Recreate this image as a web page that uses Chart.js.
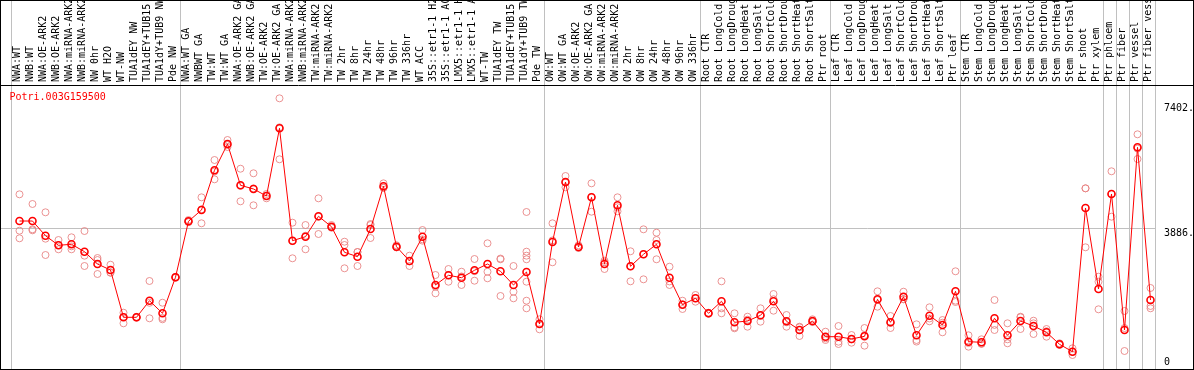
<!DOCTYPE html>
<html>
<head>
<meta charset="utf-8">
<script src="https://cdn.jsdelivr.net/npm/chart.js@4"></script>
<style>
  html, body { margin: 0; padding: 0; background: #fff; }
  #wrap { width: 1194px; height: 370px; }
</style>
</head>
<body>
<div id="wrap"><canvas id="chart" width="1194" height="370"></canvas></div>
<script>
const geneId = "Potri.003G159500";

const samples = [
    "NWA:WT", "NWB:WT", "NWA:OE-ARK2", "NWB:OE-ARK2", "NWA:miRNA-ARK2", "NWB:miRNA-ARK2",
    "NW 0hr", "WT H2O", "WT-NW", "TUA1dEY NW", "TUA1dEY+TUB15", "TUA1dY+TUB9 NW", "Pde NW",
    "NWA:WT GA", "NWBWT GA", "TW:WT", "TW:WT GA", "NWA:OE-ARK2 GA", "NWB:OE-ARK2 GA",
    "TW:OE-ARK2", "TW:OE-ARK2 GA", "NWA:miRNA-ARK2", "NWB:miRNA-ARK2", "TW:miRNA-ARK2",
    "TW:miRNA-ARK2", "TW 2hr", "TW 8hr", "TW 24hr", "TW 48hr", "TW 96hr", "TW 336hr",
    "WT ACC", "35S::etr1-1 H2O", "35S::etr1-1 ACC", "LMX5::etr1-1 H2O", "LMX5::etr1-1 ACC",
    "WT-TW", "TUA1dEY TW", "TUA1dEY+TUB15", "TUA1dY+TUB9 TW", "Pde TW",
    "OW:WT", "OW:WT GA", "OW:OE-ARK2", "OW:OE-ARK2 GA", "OW:miRNA-ARK2", "OW:miRNA-ARK2",
    "OW 2hr", "OW 8hr", "OW 24hr", "OW 48hr", "OW 96hr", "OW 336hr",
    "Root CTR", "Root LongCold", "Root LongDrought", "Root LongHeat", "Root LongSalt",
    "Root ShortCold", "Root ShortDrought", "Root ShortHeat", "Root ShortSalt", "Ptr root",
    "Leaf CTR", "Leaf LongCold", "Leaf LongDrought", "Leaf LongHeat", "Leaf LongSalt",
    "Leaf ShortCold", "Leaf ShortDrought", "Leaf ShortHeat", "Leaf ShortSalt", "Ptr leaf",
    "Stem CTR", "Stem LongCold", "Stem LongDrought", "Stem LongHeat", "Stem LongSalt",
    "Stem ShortCold", "Stem ShortDrought", "Stem ShortHeat", "Stem ShortSalt",
    "Ptr shoot", "Ptr xylem", "Ptr phloem", "Ptr fiber", "Ptr vessel", "Ptr fiber vessel"
];

// mean expression per sample
const means = [
    4089, 4089, 3678, 3409, 3437, 3230, 2885, 2717, 1392, 1392, 1857, 1504, 2513,
    4081, 4398, 5510, 6246, 5090, 4986, 4790, 6686, 3538, 3650, 4221, 3930,
    3213, 3090, 3865, 5062, 3370, 2969, 3650, 2297, 2569, 2501, 2709,
    2885, 2681, 2297, 2661, 1204,
    3501, 5182, 3361, 4753, 2885, 4529, 2821, 3157, 3437, 2501, 1745, 1924,
    1504, 1840, 1252, 1288, 1448, 1840, 1280, 1036, 1288, 849,
    849, 784, 860, 1896, 1252, 1969, 888, 1437, 1176, 2120,
    709, 692, 1364, 888, 1288, 1148, 972, 636, 429,
    4454, 2185, 4846, 1036, 6154, 1877
];

// replicate values per sample
const replicates = [
    [4837, 3818, 3605], [4566, 3857, 3829], [4333, 3594, 3137], [3557, 3297, 3417],
    [3633, 3297, 3380], [3809, 3118, 2829], [2997, 2605, 3053], [2865, 2641, 2645],
    [1521, 1224, 1400], [1380, 1392, 1404], [2409, 1364, 1798], [1801, 1336, 1375],
    [2513, 2500, 2525], [4117, 4060, 4066], [4753, 4025, 4416], [5798, 5257, 5475],
    [6358, 6162, 6218], [5554, 4641, 5075], [5426, 4529, 5003], [4846, 4725, 4799],
    [7526, 5818, 6714], [4042, 3045, 3527], [3977, 3297, 3676], [4725, 3725, 4213],
    [3977, 3900, 3913], [3510, 3417, 2765], [3221, 2829, 3220], [4005, 3613, 3977],
    [5145, 5020, 5021], [3409, 3350, 3351], [3118, 2829, 2960], [3837, 3538, 3575],
    [2577, 2064, 2250], [2745, 2389, 2573], [2669, 2297, 2537], [3025, 2417, 2685],
    [3465, 2669, 2485], [3017, 1989, 3037], [2829, 2109, 1924],
    [4342, 3230, 3118, 3017, 2389, 1857, 1644], [1336, 1056, 1220],
    [4025, 2933, 3545], [5350, 5033, 5163], [3409, 3340, 3334], [5145, 4350, 4764],
    [2977, 2745, 2933], [4753, 4361, 4473], [3241, 2400, 2822], [3857, 2456, 3158],
    [3762, 3557, 3017], [2809, 2297, 2397], [1857, 1625, 1753], [2017, 1829, 1926],
    [1521, 1495, 1496], [2400, 1644, 1504], [1504, 1112, 1084], [1409, 1129, 1326],
    [1644, 1269, 1431], [2045, 1577, 1898], [1457, 1129, 1254], [1129, 868, 1111],
    [1336, 1260, 1268], [989, 756, 802],
    [1148, 709, 644], [896, 681, 775], [1092, 597, 891], [2120, 1689, 1879],
    [1429, 1092, 1235], [2109, 1900, 1898], [1196, 756, 712], [1672, 1280, 1359],
    [1316, 972, 1240], [2681, 1821, 1858],
    [888, 569, 670], [776, 650, 650], [1877, 1036, 1179], [1224, 664, 776],
    [1409, 1064, 1391], [1297, 924, 1223], [1064, 849, 1003], [664, 620, 624],
    [524, 336, 427],
    [5005, 3353, 5004], [2529, 2389, 1616], [5482, 4210, 4846], [1569, 448, 1091],
    [6518, 5826, 6118], [2213, 1709, 1644]
];

// last sample index of each group (separator drawn after it)
const groupEnds = [-1, 12, 40, 52, 62, 72, 83, 84, 85, 86, 87];
const yTicks = [0, 3886, 7402];

const FONT = { family: "DejaVu Sans Mono", size: 10 };

const meanPoints = means.map((v, i) => ({ x: i, y: v }));
const repPoints = replicates.flatMap((vals, i) => vals.map((v) => ({ x: i, y: v })));

const extras = {
    id: "extras",
    beforeDatasetsDraw(chart) {
        const { ctx, chartArea, scales } = chart;
        ctx.save();
        ctx.strokeStyle = "#c0c0c0";
        ctx.lineWidth = 1;
        groupEnds.forEach((g) => {
            const x = Math.round(scales.x.getPixelForValue(g + 0.36)) + 0.5;
            ctx.beginPath();
            ctx.moveTo(x, 0);
            ctx.lineTo(x, chartArea.bottom);
            ctx.stroke();
        });
        ctx.restore();
    },
    afterDraw(chart) {
        const { ctx, chartArea, scales, width, height } = chart;
        ctx.save();
        ctx.strokeStyle = "#000";
        ctx.lineWidth = 1;
        ctx.strokeRect(0.5, 0.5, width - 1, height - 1);
        ctx.beginPath();
        ctx.moveTo(0, chartArea.top + 0.5);
        ctx.lineTo(width, chartArea.top + 0.5);
        ctx.stroke();

        ctx.font = "10px 'DejaVu Sans Mono'";
        ctx.textBaseline = "middle";
        ctx.fillStyle = "#000";
        yTicks.forEach((v) => {
            const y = Math.min(scales.y.getPixelForValue(v) + 5.5, chartArea.bottom - 7);
            ctx.fillText(v === 0 ? "0" : v + ".", chartArea.right + 8, y);
        });

        ctx.fillStyle = "#ff0000";
        ctx.fillText(geneId, 9.5, chartArea.top + 12);
        ctx.restore();
    }
};

new Chart(document.getElementById("chart"), {
    type: "line",
    data: {
        datasets: [
            {
                label: "mean",
                data: meanPoints,
                borderColor: "#ff0000",
                borderWidth: 1,
                pointRadius: 3.5,
                pointBorderWidth: 1.6,
                pointBorderColor: "#ff0000",
                pointBackgroundColor: "rgba(0,0,0,0)",
                tension: 0,
                order: 0
            },
            {
                label: "replicates",
                data: repPoints,
                showLine: false,
                pointRadius: 3.5,
                pointBorderWidth: 1,
                pointBorderColor: "rgba(232,128,128,0.85)",
                pointBackgroundColor: "rgba(0,0,0,0)",
                order: 1
            }
        ]
    },
    options: {
        responsive: false,
        animation: false,
        devicePixelRatio: 1,
        layout: { autoPadding: false, padding: { left: 1, right: 0, top: 0, bottom: 1 } },
        plugins: { legend: { display: false }, tooltip: { enabled: false } },
        scales: {
            x: {
                type: "linear",
                position: "top",
                min: -1.423,
                max: 87.423,
                afterBuildTicks: (scale) => {
                    scale.ticks = samples.map((_, i) => ({ value: i }));
                },
                afterFit: (scale) => {
                    scale.height = 85;
                    scale.paddingLeft = 0;
                    scale.paddingRight = 0;
                },
                ticks: {
                    autoSkip: false,
                    minRotation: 90,
                    maxRotation: 90,
                    padding: 3,
                    labelOffset: 10,
                    color: "#000",
                    font: FONT,
                    callback: (v) => samples[v]
                },
                grid: { display: false, drawTicks: false },
                border: { display: false }
            },
            y: {
                type: "linear",
                position: "right",
                min: -56,
                max: 7899,
                afterBuildTicks: (scale) => {
                    scale.ticks = yTicks.map((v) => ({ value: v }));
                },
                afterFit: (scale) => {
                    scale.width = 38;
                    scale.paddingTop = 0;
                    scale.paddingBottom = 0;
                },
                ticks: { display: false },
                grid: {
                    drawTicks: false,
                    color: (c) => (c.tick && c.tick.value === 3886 ? "#c0c0c0" : "rgba(0,0,0,0)")
                },
                border: { display: false }
            }
        }
    },
    plugins: [extras]
});
</script>
</body>
</html>
